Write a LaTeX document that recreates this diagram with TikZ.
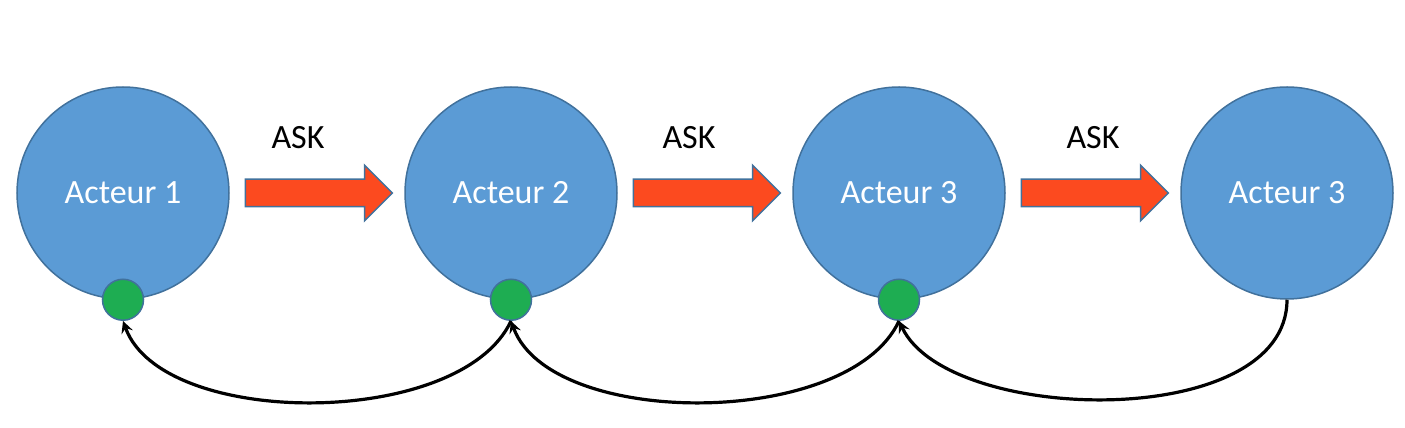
\documentclass[tikz,border=0pt]{standalone}
\usepackage{fontspec}
\setmainfont{Carlito}
\usetikzlibrary{shapes.arrows}
\definecolor{actorblue}{HTML}{5B9BD5}
\definecolor{actorline}{HTML}{41719C}
\definecolor{askred}{HTML}{FC4A1F}
\definecolor{dotgreen}{HTML}{1EAD52}
\begin{document}
\begin{tikzpicture}[x=0.5pt,y=0.5pt,node distance=97pt]
    \tikzstyle{actor} = [circle, minimum size=106pt, inner sep=0pt, fill=actorblue, draw=actorline, line width=0.75pt, text=white, font=\fontsize{17}{20}\selectfont]
    \tikzstyle{askarrow} = [single arrow, minimum height=73.5pt, inner xsep=0pt, inner ysep=6.5pt, single arrow head extend=7pt, single arrow head indent=0pt, fill=askred, draw=actorline, line width=0.75pt, xshift=-2.5pt]
    \tikzstyle{dot} = [circle, minimum size=20.5pt, inner sep=0pt, fill=dotgreen, draw=actorline, line width=0.75pt]
    \tikzstyle{asklabel} = [font=\fontsize{17}{20}\selectfont, node distance=27.5pt]
    \tikzstyle{back} = [line width=1.6pt,->,>=stealth]

    \useasboundingbox (0,0) rectangle (1405,428);

    \node (act1) [actor] at (123,235) {Acteur 1};
    \node (ask1) [askarrow, right of=act1] {};
    \node (act2) [actor, right of=act1, xshift=97pt] {Acteur 2};
    \node (ask2) [askarrow, right of=act2] {};
    \node (act3) [actor, right of=act2, xshift=97pt] {Acteur 3};
    \node (ask3) [askarrow, right of=act3] {};
    \node (act4) [actor, right of=act3, xshift=97pt] {Acteur 3};

    \node (lbl1) [asklabel, above of=ask1, xshift=-7pt] {ASK};
    \node (lbl2) [asklabel, above of=ask2, xshift=-5.5pt] {ASK};
    \node (lbl3) [asklabel, above of=ask3, xshift=2.5pt] {ASK};

    \node (dot1) [dot] at (act1.south) {};
    \node (dot2) [dot] at (act2.south) {};
    \node (dot3) [dot] at (act3.south) {};

    \draw [back] (dot2.south) .. controls +(-25pt,-54pt) and +(20pt,-54pt) .. (dot1.south);
    \draw [back] (dot3.south) .. controls +(-25pt,-54pt) and +(20pt,-54pt) .. (dot2.south);
    \draw [back] (act4.south) .. controls +(0,-66pt) and +(25pt,-52pt) .. (dot3.south);
\end{tikzpicture}
\end{document}
